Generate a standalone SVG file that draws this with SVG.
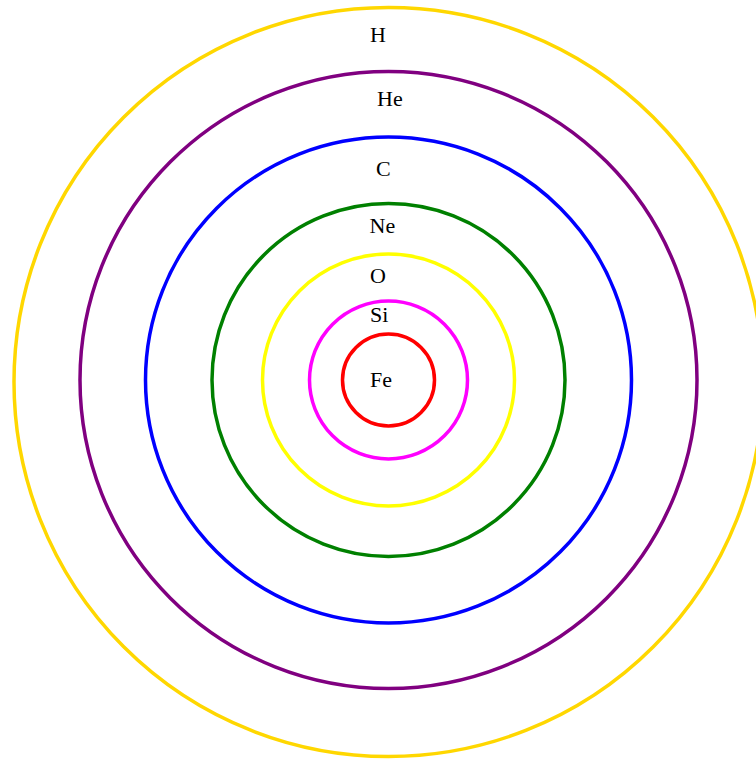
<svg xmlns="http://www.w3.org/2000/svg" width="756" height="759" viewBox="0 0 756 759">
<style>
.shell{fill:none;stroke-width:3.5}
.lbl{font-family:"Liberation Serif",serif;font-size:22px;fill:#000}
</style>
<rect width="756" height="759" fill="#fff"/>
<g id="H"><circle class="shell" cx="388.5" cy="382" r="374.5" stroke="#FFD700"/><text class="lbl" x="370" y="42">H</text></g>
<g id="He"><circle class="shell" cx="388.5" cy="380" r="308.5" stroke="#800080"/><text class="lbl" x="377" y="106">He</text></g>
<g id="C"><circle class="shell" cx="388.5" cy="380" r="243" stroke="#0000FF"/><text class="lbl" x="376" y="176">C</text></g>
<g id="Ne"><circle class="shell" cx="388.5" cy="380" r="176.5" stroke="#008000"/><text class="lbl" x="369.5" y="233">Ne</text></g>
<g id="O"><circle class="shell" cx="388.5" cy="380" r="126" stroke="#FFFF00"/><text class="lbl" x="370" y="283">O</text></g>
<g id="Si"><circle class="shell" cx="388.5" cy="380" r="79" stroke="#FF00FF"/><text class="lbl" x="370" y="322">Si</text></g>
<g id="Fe"><circle class="shell" cx="388.5" cy="380" r="46" stroke="#FF0000"/><text class="lbl" x="370" y="387">Fe</text></g>
<g id="connectors"/>
</svg>
